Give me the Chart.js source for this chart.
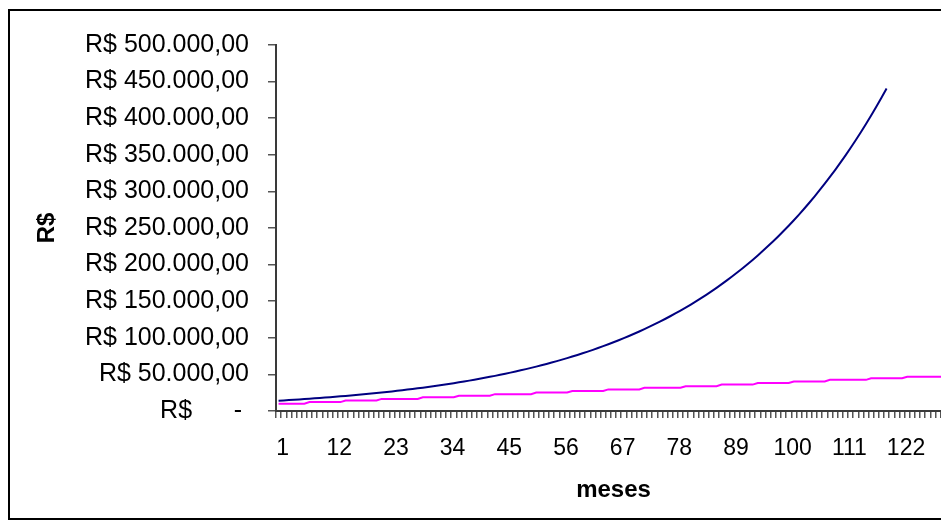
<!DOCTYPE html>
<html lang="pt-BR">
<head>
<meta charset="utf-8">
<title>Evolução do valor em meses</title>
<script src="https://cdn.jsdelivr.net/npm/chart.js@4.4.1/dist/chart.umd.min.js"></script>
<style>
  html, body { margin: 0; padding: 0; background: #fff; overflow: hidden; }
  #view { position: relative; width: 941px; height: 526px; overflow: hidden; background: #fff; }
  #wrap { position: absolute; left: 0; top: 0; width: 951px; height: 526px; }
  #frame { position: absolute; left: 8px; top: 9px; width: 1000px; height: 511px;
           border: 2px solid #000; border-right: none; box-sizing: border-box; pointer-events: none; }
</style>
</head>
<body>
<div id="view">
  <div id="wrap"><canvas id="grafico" width="951" height="526"></canvas></div>
  <div id="frame"></div>
</div>
<script>
// Meses (categorias do eixo X)
const meses = Array.from({ length: 131 }, (_, i) => i + 1);

// Meses que recebem rótulo no eixo X
const rotulosMeses = [1, 12, 23, 34, 45, 56, 67, 78, 89, 100, 111, 122];

// Rótulos do eixo Y (R$ 0 a R$ 500.000, de 50.000 em 50.000)
const rotulosValores = [
  'R$      - ', 'R$ 50.000,00', 'R$ 100.000,00', 'R$ 150.000,00', 'R$ 200.000,00',
  'R$ 250.000,00', 'R$ 300.000,00', 'R$ 350.000,00', 'R$ 400.000,00', 'R$ 450.000,00',
  'R$ 500.000,00'
];

// Saldo acumulado (linha azul)
const saldoAcumulado = [
  14100, 14500, 14950, 15400, 15850, 16300, 16800, 17300, 17800, 18350,
  18900, 19450, 20000, 20600, 21200, 21850, 22500, 23150, 23850, 24550,
  25250, 26000, 26800, 27600, 28400, 29250, 30100, 31000, 31900, 32850,
  33850, 34850, 35850, 36900, 38000, 39150, 40300, 41500, 42700, 44000,
  45300, 46650, 48000, 49450, 50900, 52400, 53950, 55550, 57200, 58900,
  60600, 62400, 64250, 66150, 68150, 70150, 72200, 74350, 76550, 78800,
  81150, 83550, 86050, 88600, 91200, 93900, 96700, 99550, 102500, 105500,
  108650, 111850, 115150, 118600, 122100, 125700, 129450, 133250, 137200, 141250,
  145450, 149750, 154200, 158750, 163450, 168300, 173250, 178400, 183650, 189100,
  194700, 200450, 206400, 212500, 218800, 225300, 231950, 238800, 245900, 253150,
  260650, 268350, 276300, 284500, 292900, 301600, 310500, 319700, 329150, 338900,
  348950, 359250, 369900, 380850, 392150, 403750, 415700, 428000, 440650
];

// Valor corrigido (linha rosa, em degraus)
const valorCorrigido = [
  10000, 10000, 10000, 10000, 10000, 10000,
  12170, 12170, 12170, 12170, 12170, 12170, 12170,
  14340, 14340, 14340, 14340, 14340, 14340, 14340,
  16510, 16510, 16510, 16510, 16510, 16510, 16510, 16510,
  18680, 18680, 18680, 18680, 18680, 18680, 18680,
  20850, 20850, 20850, 20850, 20850, 20850, 20850,
  23020, 23020, 23020, 23020, 23020, 23020, 23020, 23020,
  25190, 25190, 25190, 25190, 25190, 25190, 25190,
  27360, 27360, 27360, 27360, 27360, 27360, 27360,
  29530, 29530, 29530, 29530, 29530, 29530, 29530,
  31700, 31700, 31700, 31700, 31700, 31700, 31700, 31700,
  33870, 33870, 33870, 33870, 33870, 33870, 33870,
  36040, 36040, 36040, 36040, 36040, 36040, 36040,
  38210, 38210, 38210, 38210, 38210, 38210, 38210,
  40380, 40380, 40380, 40380, 40380, 40380, 40380,
  42550, 42550, 42550, 42550, 42550, 42550, 42550, 42550,
  44720, 44720, 44720, 44720, 44720, 44720, 44720,
  46890, 46890, 46890, 46890, 46890, 46890, 46890, 46890, 46890
];

const fonte = 'Arial, "Liberation Sans", sans-serif';
Chart.defaults.font.family = fonte;
Chart.defaults.color = '#000';

new Chart(document.getElementById('grafico'), {
  type: 'line',
  data: {
    labels: meses,
    datasets: [
      { data: saldoAcumulado, borderColor: '#000080', borderWidth: 2, pointRadius: 0, tension: 0, fill: false },
      { data: valorCorrigido, borderColor: '#ff00ff', borderWidth: 2, pointRadius: 0, tension: 0, fill: false }
    ]
  },
  options: {
    responsive: false,
    animation: false,
    events: [],
    layout: { padding: { top: 45, right: 0, bottom: 0, left: 0 } },
    plugins: { legend: { display: false }, tooltip: { enabled: false } },
    scales: {
      x: {
        type: 'category',
        offset: true,
        grid: { offset: true, drawOnChartArea: false, drawTicks: true, tickLength: 7, tickColor: '#555', lineWidth: 1.5 },
        border: { display: true, color: '#3a3a3a', width: 2 },
        ticks: {
          autoSkip: false, maxRotation: 0, minRotation: 0, padding: 17, labelOffset: 4,
          font: { size: 23 },
          callback: function (v, i) {
            const m = meses[i];
            return rotulosMeses.includes(m) ? String(m) : '';
          }
        },
        title: { display: true, text: 'meses', font: { size: 24, weight: 'bold' }, padding: { top: 0, bottom: 21 } },
        afterFit: s => { s.height = 115; s.paddingLeft = 0; s.paddingRight = 0; }
      },
      y: {
        min: 0, max: 500000,
        grid: { drawOnChartArea: false, drawTicks: true, tickLength: 8, tickColor: '#555', lineWidth: 1.5 },
        border: { display: true, color: '#3a3a3a', width: 2 },
        ticks: {
          stepSize: 50000, padding: 19,
          font: { size: 25 },
          callback: function (v, i) { return rotulosValores[i]; }
        },
        title: { display: true, text: 'R$', font: { size: 24, weight: 'bold' }, padding: { top: 33, bottom: 0 } },
        afterFit: s => { s.width = 276; s.paddingTop = 0; s.paddingBottom = 0; }
      }
    }
  }
});
</script>
</body>
</html>
